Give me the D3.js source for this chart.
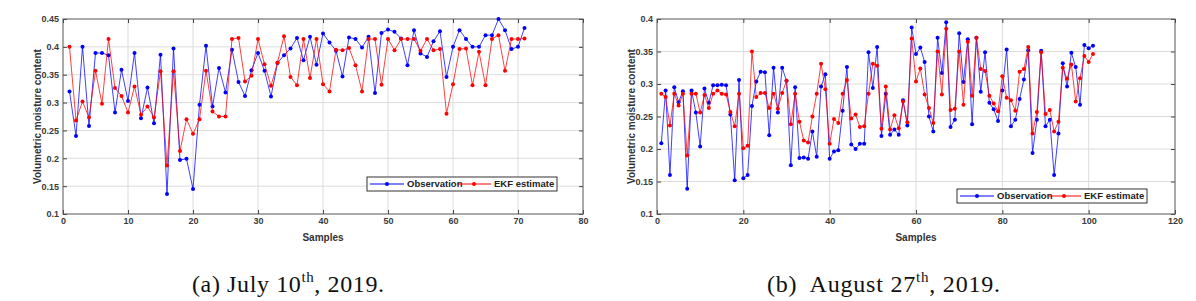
<!DOCTYPE html>
<html>
<head>
<meta charset="utf-8">
<script src="https://cdn.jsdelivr.net/npm/d3@7"></script>
<style>
body { margin: 0; background: #fff; }
svg text { font-family: Arial, "Liberation Sans", sans-serif; }
.cap { font-family: "Liberation Serif", "DejaVu Serif", serif !important; }
</style>
</head>
<body>
<svg id="chart" width="1196" height="301"></svg>
<script>
// (a) July 10th
var obsA = [0.320, 0.240, 0.400, 0.258, 0.389, 0.389, 0.385, 0.282, 0.359, 0.303,
    0.389, 0.272, 0.327, 0.263, 0.386, 0.136, 0.397, 0.197, 0.199, 0.145,
    0.296, 0.402, 0.293, 0.362, 0.318, 0.395, 0.337, 0.312, 0.358, 0.389,
    0.357, 0.311, 0.371, 0.385, 0.397, 0.416, 0.376, 0.418, 0.368, 0.424,
    0.408, 0.393, 0.347, 0.417, 0.414, 0.399, 0.418, 0.317, 0.425, 0.431,
    0.427, 0.415, 0.367, 0.430, 0.388, 0.382, 0.410, 0.428, 0.346, 0.400,
    0.430, 0.414, 0.400, 0.400, 0.421, 0.421, 0.450, 0.430, 0.396, 0.400, 0.434];
var ekfA = [0.400, 0.268, 0.302, 0.273, 0.357, 0.298, 0.414, 0.326, 0.312, 0.282,
    0.329, 0.278, 0.293, 0.273, 0.356, 0.187, 0.356, 0.213, 0.270, 0.244,
    0.270, 0.357, 0.284, 0.275, 0.275, 0.414, 0.416, 0.338, 0.348, 0.414,
    0.369, 0.330, 0.372, 0.419, 0.346, 0.331, 0.414, 0.344, 0.414, 0.333,
    0.320, 0.395, 0.394, 0.398, 0.367, 0.320, 0.414, 0.414, 0.332, 0.414,
    0.394, 0.414, 0.414, 0.414, 0.393, 0.414, 0.394, 0.396, 0.280, 0.333,
    0.396, 0.397, 0.331, 0.391, 0.331, 0.414, 0.421, 0.357, 0.414, 0.414, 0.415];
var xTicksA = [0, 10, 20, 30, 40, 50, 60, 70, 80];
var yTicksA = [0.1, 0.15, 0.2, 0.25, 0.3, 0.35, 0.4, 0.45];

// (b) August 27th
var obsB = [0.209, 0.290, 0.160, 0.295, 0.272, 0.289, 0.139, 0.290, 0.256, 0.204,
    0.293, 0.271, 0.298, 0.298, 0.299, 0.298, 0.253, 0.152, 0.306, 0.155,
    0.160, 0.266, 0.304, 0.319, 0.318, 0.221, 0.325, 0.256, 0.325, 0.305,
    0.175, 0.295, 0.186, 0.187, 0.185, 0.227, 0.188, 0.296, 0.315, 0.185,
    0.196, 0.198, 0.259, 0.326, 0.207, 0.200, 0.208, 0.208, 0.349, 0.294,
    0.357, 0.220, 0.285, 0.222, 0.230, 0.222, 0.275, 0.236, 0.387, 0.346,
    0.356, 0.334, 0.250, 0.227, 0.371, 0.317, 0.395, 0.234, 0.245, 0.378,
    0.303, 0.369, 0.238, 0.371, 0.288, 0.349, 0.271, 0.261, 0.243, 0.290,
    0.353, 0.235, 0.245, 0.277, 0.307, 0.352, 0.194, 0.245, 0.351, 0.235,
    0.245, 0.160, 0.224, 0.332, 0.296, 0.348, 0.326, 0.268, 0.360, 0.355, 0.359];
var ekfB = [0.285, 0.280, 0.236, 0.285, 0.267, 0.285, 0.190, 0.285, 0.285, 0.256,
    0.283, 0.263, 0.285, 0.290, 0.285, 0.284, 0.257, 0.235, 0.285, 0.201,
    0.205, 0.350, 0.280, 0.286, 0.286, 0.263, 0.285, 0.262, 0.286, 0.305,
    0.238, 0.285, 0.242, 0.213, 0.210, 0.250, 0.285, 0.331, 0.292, 0.208,
    0.246, 0.240, 0.285, 0.306, 0.247, 0.253, 0.234, 0.235, 0.285, 0.331,
    0.328, 0.231, 0.296, 0.230, 0.252, 0.232, 0.273, 0.241, 0.370, 0.304,
    0.324, 0.284, 0.263, 0.240, 0.350, 0.284, 0.385, 0.260, 0.262, 0.350,
    0.268, 0.365, 0.282, 0.371, 0.323, 0.320, 0.282, 0.270, 0.258, 0.312,
    0.279, 0.275, 0.259, 0.319, 0.323, 0.357, 0.224, 0.257, 0.349, 0.254,
    0.260, 0.227, 0.242, 0.325, 0.308, 0.330, 0.273, 0.309, 0.343, 0.334, 0.346];
var xTicksB = [0, 20, 40, 60, 80, 100, 120];
var yTicksB = [0.1, 0.15, 0.2, 0.25, 0.3, 0.35, 0.4];

var seriesNames = ["Observation", "EKF estimate"];
var seriesColors = ["#0000ff", "#ff0000"];

var svg = d3.select("#chart");

function panel(o) {
    var g = svg.append("g");
    var x = d3.scaleLinear()
        .domain([o.xTicks[0], o.xTicks[o.xTicks.length - 1]])
        .range([o.left, o.right]);
    var y = d3.scaleLinear()
        .domain([o.yTicks[0], o.yTicks[o.yTicks.length - 1]])
        .range([o.bottom, o.top]);

    // grid
    g.append("g").selectAll("line")
        .data(o.xTicks.slice(1, -1))
        .enter().append("line")
        .attr("x1", d => x(d)).attr("x2", d => x(d))
        .attr("y1", o.top).attr("y2", o.bottom)
        .attr("stroke", "#dcdcdc");
    g.append("g").selectAll("line")
        .data(o.yTicks.slice(1, -1))
        .enter().append("line")
        .attr("x1", o.left).attr("x2", o.right)
        .attr("y1", d => y(d)).attr("y2", d => y(d))
        .attr("stroke", "#dcdcdc");

    // axes, ticks pointing inside
    var ax = function (sel) {
        sel.select(".domain").remove();
        sel.selectAll(".tick line").attr("stroke", "#444");
        sel.selectAll(".tick text")
            .attr("fill", "#3a3a3a")
            .style("font-size", "9px")
            .style("font-weight", "bold");
    };
    g.append("g").attr("transform", "translate(0," + o.bottom + ")")
        .call(d3.axisBottom(x).tickValues(o.xTicks).tickSize(-4).tickPadding(4).tickFormat(d3.format("d")))
        .call(ax);
    g.append("g").attr("transform", "translate(0," + o.top + ")")
        .call(d3.axisTop(x).tickValues(o.xTicks).tickSize(-4).tickFormat(""))
        .call(ax);
    g.append("g").attr("transform", "translate(" + o.left + ",0)")
        .call(d3.axisLeft(y).tickValues(o.yTicks).tickSize(-4).tickPadding(4).tickFormat(d => String(+d.toFixed(2))))
        .call(ax);
    g.append("g").attr("transform", "translate(" + o.right + ",0)")
        .call(d3.axisRight(y).tickValues(o.yTicks).tickSize(-4).tickFormat(""))
        .call(ax);

    g.append("rect")
        .attr("x", o.left).attr("y", o.top)
        .attr("width", o.right - o.left).attr("height", o.bottom - o.top)
        .attr("fill", "none").attr("stroke", "#555").attr("stroke-width", 1);

    // series
    var line = d3.line()
        .x((d, i) => x(i + 1))
        .y(d => y(d));
    [o.obs, o.ekf].forEach(function (vals, k) {
        var s = g.append("g");
        s.append("path")
            .datum(vals)
            .attr("d", line)
            .attr("fill", "none")
            .attr("stroke", seriesColors[k])
            .attr("stroke-opacity", 0.75)
            .attr("stroke-width", 1);
        s.selectAll("circle")
            .data(vals)
            .enter().append("circle")
            .attr("cx", (d, i) => x(i + 1))
            .attr("cy", d => y(d))
            .attr("r", 2)
            .attr("fill", seriesColors[k]);
    });

    // axis titles
    g.append("text")
        .attr("x", (o.left + o.right) / 2).attr("y", o.bottom + 27)
        .attr("text-anchor", "middle")
        .attr("fill", "#333")
        .style("font-size", "10px").style("font-weight", "bold")
        .text("Samples");
    g.append("text")
        .attr("transform", "translate(" + (o.left - 22) + "," + ((o.top + o.bottom) / 2) + ") rotate(-90)")
        .attr("text-anchor", "middle")
        .attr("fill", "#333")
        .style("font-size", "10px").style("font-weight", "bold")
        .text("Volumetric moisture content");

    // legend
    var lg = g.append("g").attr("transform", "translate(" + o.legX + "," + o.legY + ")");
    lg.append("rect")
        .attr("width", 190).attr("height", 14)
        .attr("fill", "#fff").attr("stroke", "#333").attr("stroke-width", 1);
    var offs = [3, 90];
    seriesNames.forEach(function (name, k) {
        var it = lg.append("g").attr("transform", "translate(" + offs[k] + ",7)");
        it.append("line").attr("x1", 0).attr("x2", 34)
            .attr("stroke", seriesColors[k]).attr("stroke-width", 1);
        it.append("circle").attr("cx", 17).attr("r", 2).attr("fill", seriesColors[k]);
        it.append("text").attr("x", 37).attr("dy", "0.35em")
            .attr("fill", "#222")
            .style("font-size", "9.5px").style("font-weight", "bold")
            .text(name);
    });

    // caption
    var cap = svg.append("text").attr("class", "cap")
        .attr("x", o.capX).attr("y", 292)
        .attr("fill", "#111")
        .attr("textLength", o.capW)
        .attr("lengthAdjust", "spacing")
        .style("font-size", "24px");
    cap.append("tspan").text(o.capPre);
    cap.append("tspan").attr("dy", -10).style("font-size", "15px").text("th");
    cap.append("tspan").attr("dy", 10).text(", 2019.");
}

panel({
    obs: obsA, ekf: ekfA, xTicks: xTicksA, yTicks: yTicksA,
    left: 63, right: 583, top: 19, bottom: 214,
    legX: 367, legY: 177,
    capX: 192, capW: 192, capPre: "(a) July 10"
});
panel({
    obs: obsB, ekf: ekfB, xTicks: xTicksB, yTicks: yTicksB,
    left: 657, right: 1175, top: 19, bottom: 214,
    legX: 957, legY: 189,
    capX: 767, capW: 233, capPre: "(b)\u00a0 August 27"
});
</script>
</body>
</html>
